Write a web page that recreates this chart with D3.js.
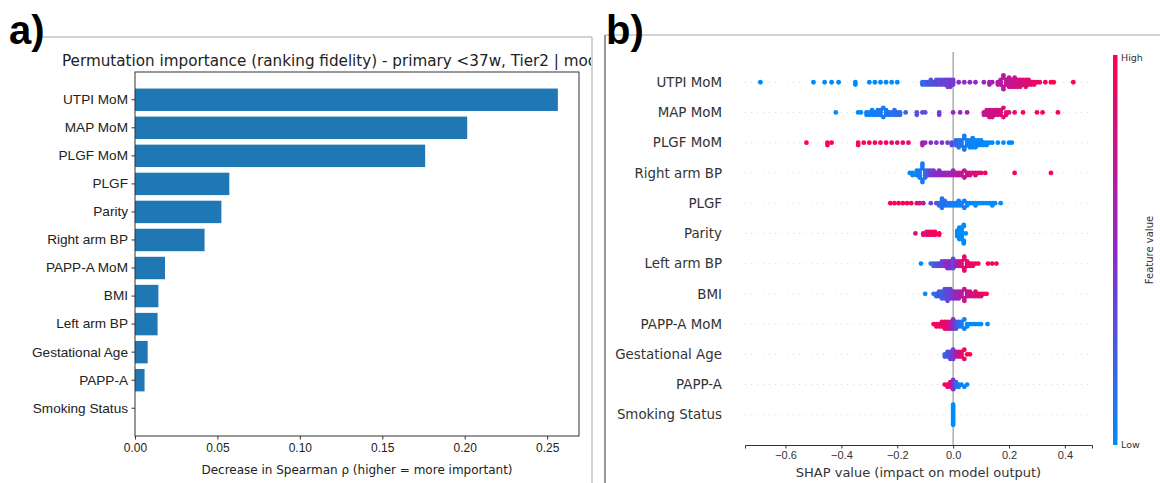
<!DOCTYPE html>
<html>
<head>
<meta charset="utf-8">
<script src="https://cdn.jsdelivr.net/npm/d3@7"></script>
<style>
  html, body { margin: 0; padding: 0; background: #fff; }
  svg { display: block; font-family: "DejaVu Sans", sans-serif; }
</style>
</head>
<body>
<svg id="chart" width="1160" height="483"></svg>
<script>
// ---- panel a: permutation importance ----
const features = ["UTPI MoM", "MAP MoM", "PLGF MoM", "PLGF", "Parity", "Right arm BP",
  "PAPP-A MoM", "BMI", "Left arm BP", "Gestational Age", "PAPP-A", "Smoking Status"];
const importance = [0.2565, 0.2015, 0.1760, 0.0572, 0.0524, 0.0422,
  0.0182, 0.0142, 0.0137, 0.0077, 0.0058, 0.0];
const importanceTicks = [0, 0.05, 0.10, 0.15, 0.20, 0.25];

// ---- panel b: SHAP beeswarm, each entry [shap value, feature value 0..1, dots stacked] ----
const shapTicks = [-0.6, -0.4, -0.2, 0.0, 0.2, 0.4];
const shapUtpiMom = [[-0.69,0,1],[-0.50,0,1],[-0.46,0,1],[-0.435,0,1],[-0.41,0,1],[-0.35,0,2],
  [-0.30,0,1],[-0.28,0,1],[-0.26,0,1],[-0.24,0,1],[-0.22,0,1],[-0.20,0,1],
  [-0.11,0.2,2],[-0.10,0.15,2],[-0.09,0.3,2],[-0.08,0.25,3],[-0.07,0.3,2],[-0.06,0.35,3],
  [-0.05,0.3,3],[-0.04,0.35,3],[-0.03,0.4,3],[-0.02,0.35,4],[-0.01,0.45,4],[0.0,0.4,3],
  [0.02,0.5,1],[0.04,0.5,1],[0.06,0.55,1],[0.08,0.5,1],[0.11,0.55,1],[0.13,0.6,2],[0.14,0.6,1],
  [0.16,0.7,2],[0.17,0.65,3],[0.18,0.7,4],[0.19,0.75,3],[0.20,0.7,5],[0.21,0.8,4],[0.22,0.75,5],
  [0.23,0.8,4],[0.24,0.85,4],[0.25,0.8,3],[0.26,0.85,4],[0.27,0.9,3],[0.28,0.85,2],[0.29,0.9,2],
  [0.30,0.95,1],[0.31,0.9,1],[0.33,0.95,1],[0.35,1,1],[0.36,1,1],[0.43,1,1]];
const shapMapMom = [[-0.42,0,1],[-0.34,0,1],[-0.33,0,1],[-0.31,0.05,2],[-0.30,0,2],[-0.29,0.05,3],
  [-0.28,0.1,2],[-0.27,0.05,3],[-0.26,0.1,3],[-0.25,0.05,2],[-0.24,0.1,3],[-0.23,0.15,2],
  [-0.22,0.1,2],[-0.21,0.15,3],[-0.20,0.2,2],[-0.19,0.15,2],[-0.17,0.2,1],
  [-0.13,0.3,2],[-0.11,0.35,1],[-0.10,0.3,1],[-0.05,0.4,2],[0.0,0.55,1],[0.025,0.55,1],[0.05,0.6,1],
  [0.11,0.7,2],[0.12,0.75,3],[0.13,0.8,4],[0.14,0.75,4],[0.15,0.8,3],[0.16,0.85,3],[0.17,0.8,3],
  [0.18,0.85,2],[0.19,0.9,2],[0.20,0.85,1],[0.22,0.9,1],[0.25,1,1],[0.30,1,1],[0.32,1,1],[0.375,1,1]];
const shapPlgfMom = [[-0.525,1,1],[-0.45,1,2],[-0.435,1,1],[-0.34,0.95,2],[-0.32,1,1],[-0.30,0.95,1],
  [-0.28,1,1],[-0.26,0.9,1],[-0.24,0.95,1],[-0.22,0.9,1],[-0.20,0.9,1],[-0.18,0.85,1],[-0.16,0.9,1],
  [-0.11,0.6,2],[-0.10,0.55,1],[-0.08,0.5,1],[-0.06,0.45,1],[-0.04,0.45,1],[-0.02,0.4,1],[-0.005,0.35,2],
  [0.01,0.2,3],[0.02,0.15,4],[0.03,0.1,3],[0.04,0.1,4],[0.05,0.05,3],[0.06,0.05,4],[0.07,0.05,5],
  [0.08,0,4],[0.09,0.05,3],[0.10,0,3],[0.11,0,2],[0.12,0,2],[0.13,0,1],[0.14,0,1],[0.16,0,1],
  [0.18,0,1],[0.20,0,1],[0.21,0,1]];
const shapRightArm = [[-0.155,0,1],[-0.145,0,2],[-0.13,0.05,3],[-0.12,0.05,4],[-0.11,0.1,5],
  [-0.10,0.15,4],[-0.09,0.3,3],[-0.08,0.4,3],[-0.07,0.45,3],[-0.06,0.5,2],[-0.05,0.5,3],
  [-0.04,0.55,2],[-0.03,0.55,2],[-0.02,0.6,2],[-0.01,0.55,2],[0.0,0.6,3],[0.01,0.65,2],[0.02,0.7,2],
  [0.03,0.75,2],[0.04,0.7,2],[0.05,0.8,2],[0.06,0.85,2],[0.07,0.8,1],[0.08,0.85,2],[0.09,0.9,1],
  [0.10,0.9,1],[0.115,0.95,1],[0.22,1,1],[0.35,1,1]];
const shapPlgf = [[-0.225,1,1],[-0.21,1,1],[-0.195,1,1],[-0.18,0.95,1],[-0.165,1,1],[-0.15,0.95,1],
  [-0.13,0.9,1],[-0.12,0.85,1],[-0.107,0.7,1],[-0.08,0.35,1],[-0.06,0.3,1],[-0.05,0.2,2],
  [-0.04,0.1,5],[-0.03,0.15,3],[-0.02,0.1,2],[-0.01,0.1,2],[0.0,0.05,2],[0.01,0.05,2],[0.02,0.05,3],
  [0.03,0.05,2],[0.04,0.1,2],[0.05,0,2],[0.06,0,1],[0.07,0,1],[0.08,0,2],[0.09,0,1],[0.10,0,1],
  [0.11,0,1],[0.12,0,1],[0.13,0,1],[0.14,0,2],[0.15,0,1],[0.17,0,1]];
const shapParity = [[-0.135,0.8,1],[-0.107,0.9,2],[-0.095,0.85,3],[-0.085,0.95,3],[-0.075,0.9,3],
  [-0.065,1,3],[-0.05,1,2],[0.015,0,5],[0.022,0,9],[0.03,0,9],[0.038,0,5],[0.045,0,1]];
const shapLeftArm = [[-0.115,0,1],[-0.08,0.1,1],[-0.07,0.2,2],[-0.06,0.3,2],[-0.05,0.4,2],
  [-0.04,0.35,3],[-0.03,0.45,3],[-0.02,0.5,4],[-0.01,0.5,4],[0.0,0.3,5],[0.01,0.6,3],[0.02,0.7,3],
  [0.03,0.85,3],[0.04,0.9,4],[0.05,0.9,3],[0.06,0.95,2],[0.07,0.9,2],[0.08,1,1],[0.09,1,1],
  [0.125,1,1],[0.14,1,1],[0.155,1,1]];
const shapBmi = [[-0.10,0,1],[-0.07,0.1,1],[-0.06,0.2,2],[-0.05,0.3,3],[-0.04,0.2,4],[-0.03,0.3,5],
  [-0.02,0.35,6],[-0.01,0.4,5],[0.0,0.45,4],[0.01,0.55,4],[0.02,0.6,4],[0.03,0.7,3],[0.04,0.75,3],
  [0.05,0.7,3],[0.06,0.8,3],[0.07,0.85,2],[0.08,0.8,3],[0.09,0.9,2],[0.10,0.9,2],[0.11,0.95,1],[0.12,1,1]];
const shapPappaMom = [[-0.07,1,1],[-0.06,0.95,2],[-0.05,1,2],[-0.04,0.9,3],[-0.03,0.95,4],
  [-0.02,0.85,4],[-0.01,0.7,4],[0.0,0.5,5],[0.01,0.3,4],[0.02,0.2,3],[0.03,0.1,3],[0.04,0.05,2],
  [0.05,0,2],[0.06,0,1],[0.07,0,1],[0.08,0,1],[0.09,0,1],[0.10,0,1],[0.123,0,1]];
const shapGestAge = [[-0.03,0.2,2],[-0.02,0.3,3],[-0.01,0.35,4],[0.0,0.4,5],[0.01,0.6,3],
  [0.02,0.8,3],[0.03,0.9,3],[0.04,0.95,2],[0.05,1,1],[0.06,1,1]];
const shapPappa = [[-0.03,1,1],[-0.02,0.9,2],[-0.01,0.85,3],[0.0,0.5,5],[0.01,0.2,3],[0.02,0.1,2],
  [0.03,0,1],[0.04,0,1],[0.05,0,1]];
const shapSmoking = [[0.0,0,11]];

const shapRows = [
  ["UTPI MoM", shapUtpiMom], ["MAP MoM", shapMapMom], ["PLGF MoM", shapPlgfMom],
  ["Right arm BP", shapRightArm], ["PLGF", shapPlgf], ["Parity", shapParity],
  ["Left arm BP", shapLeftArm], ["BMI", shapBmi], ["PAPP-A MoM", shapPappaMom],
  ["Gestational Age", shapGestAge], ["PAPP-A", shapPappa], ["Smoking Status", shapSmoking]
];

const svg = d3.select("#chart");
svg.append("rect").attr("width", 1160).attr("height", 483).attr("fill", "#fff");

// panel frames
svg.append("line").attr("x1", 40).attr("x2", 592).attr("y1", 37).attr("y2", 37).attr("stroke", "#c4c4c4").attr("stroke-width", 1.5);
svg.append("line").attr("x1", 592).attr("x2", 592).attr("y1", 37).attr("y2", 483).attr("stroke", "#c4c4c4").attr("stroke-width", 1.5);
svg.append("line").attr("x1", 605).attr("x2", 1160).attr("y1", 35).attr("y2", 35).attr("stroke", "#c4c4c4").attr("stroke-width", 1.5);
svg.append("line").attr("x1", 605).attr("x2", 605).attr("y1", 35).attr("y2", 483).attr("stroke", "#777").attr("stroke-width", 1.5);

svg.append("text").attr("x", 9).attr("y", 44).text("a)")
  .style("font-family", "Liberation Sans, Arial, sans-serif").style("font-weight", "bold").style("font-size", "40px");
svg.append("text").attr("x", 606).attr("y", 44).text("b)")
  .style("font-family", "Liberation Sans, Arial, sans-serif").style("font-weight", "bold").style("font-size", "40px");

// ---------- panel a ----------
const ax = { left: 135, right: 579, top: 72, bottom: 436 };
const x = d3.scaleLinear().domain([0, d3.max(importance) * 1.05]).range([ax.left, ax.right]);
const y = d3.scaleBand().domain(features).range([ax.top, ax.bottom]).paddingInner(0.2).paddingOuter(0.59);

svg.append("clipPath").attr("id", "clipA").append("rect").attr("x", 0).attr("y", 0).attr("width", 591).attr("height", 483);
svg.append("text").attr("clip-path", "url(#clipA)")
  .attr("x", 62).attr("y", 66).attr("fill", "#222").style("font-size", "15.2px")
  .text("Permutation importance (ranking fidelity) - primary <37w, Tier2 | model");

svg.append("g").selectAll("rect").data(features).join("rect")
  .attr("x", x(0))
  .attr("y", d => y(d))
  .attr("width", (d, i) => x(importance[i]) - x(0))
  .attr("height", y.bandwidth())
  .attr("fill", "#1f77b4");

svg.append("rect").attr("x", ax.left).attr("y", ax.top).attr("width", ax.right - ax.left).attr("height", ax.bottom - ax.top)
  .attr("fill", "none").attr("stroke", "#333").attr("stroke-width", 1);

const gxA = svg.append("g").attr("transform", `translate(0,${ax.bottom})`)
  .call(d3.axisBottom(x).tickValues(importanceTicks).tickFormat(d3.format(".2f")).tickSize(3.5).tickPadding(3.5));
gxA.select(".domain").remove();
gxA.selectAll("text").style("font-size", "12px").attr("fill", "#222");
gxA.selectAll("line").attr("stroke", "#333");

const gyA = svg.append("g").attr("transform", `translate(${ax.left},0)`)
  .call(d3.axisLeft(y).tickSize(3.5).tickPadding(3.5));
gyA.select(".domain").remove();
gyA.selectAll("text").style("font-size", "13.6px").attr("fill", "#222");
gyA.selectAll("line").attr("stroke", "#333");

svg.append("text").attr("x", (ax.left + ax.right) / 2).attr("y", 473.5).attr("text-anchor", "middle")
  .attr("fill", "#222").style("font-size", "12px")
  .text("Decrease in Spearman ρ (higher = more important)");

// ---------- panel b ----------
const bx = { left: 745, right: 1092, top: 52, bottom: 445 };
const xs = d3.scaleLinear().domain([-0.745, 0.497]).range([bx.left, bx.right]);
const ys = d3.scaleLinear().domain([-1, shapRows.length]).range([bx.bottom, bx.top]);
const color = d3.scaleLinear().domain([0, 0.5, 1]).range(["#008bfb", "#8b2bc8", "#ff0052"]);
const rowPos = (i) => ys(shapRows.length - 1 - i);

const gb = svg.append("g");
// dotted row guides
gb.selectAll("line.guide").data(shapRows).join("line").attr("class", "guide")
  .attr("x1", bx.left).attr("x2", bx.right)
  .attr("y1", (d, i) => rowPos(i)).attr("y2", (d, i) => rowPos(i))
  .attr("stroke", "#cccccc").attr("stroke-width", 0.7).attr("stroke-dasharray", "1 5");
// zero line
gb.append("line").attr("x1", xs(0)).attr("x2", xs(0)).attr("y1", bx.top).attr("y2", bx.bottom)
  .attr("stroke", "#999").attr("stroke-width", 1.2);

// beeswarm layout: bin by pixel, stack alternately above/below
function swarm(entries, cy) {
  const pts = [];
  entries.forEach(([v, f, n]) => { for (let k = 0; k < n; k++) pts.push({ v, f, px: xs(v) }); });
  pts.sort((a, b) => a.px - b.px);
  let lastBin = null, layer = 0;
  pts.forEach(p => {
    const bin = Math.round(p.px / 3);
    if (bin !== lastBin) { layer = 0; lastBin = bin; }
    p.k = Math.ceil(layer / 2) * ((layer % 2) * 2 - 1);
    layer++;
  });
  const maxK = d3.max(pts, p => Math.abs(p.k)) || 1;
  const step = Math.min(2.3, 10 / maxK);
  pts.forEach(p => { p.py = cy + p.k * step; });
  return pts;
}

shapRows.forEach(([name, entries], i) => {
  const pts = swarm(entries, rowPos(i));
  gb.append("g").selectAll("circle").data(pts).join("circle")
    .attr("cx", d => d.px).attr("cy", d => d.py).attr("r", 2.4)
    .attr("fill", d => color(d.f));
});

// y labels
gb.selectAll("text.ylab").data(shapRows).join("text").attr("class", "ylab")
  .attr("x", 722).attr("y", (d, i) => rowPos(i)).attr("dy", "0.35em").attr("text-anchor", "end")
  .attr("fill", "#333").style("font-size", "13.4px").text(d => d[0]);

const gxB = svg.append("g").attr("transform", `translate(0,${bx.bottom})`)
  .call(d3.axisBottom(xs).tickValues(shapTicks).tickFormat(d3.format(".1f")).tickSize(3.5).tickPadding(2.5));
gxB.select(".domain").attr("stroke", "#333");
gxB.selectAll("text").style("font-size", "11px").attr("fill", "#333");
gxB.selectAll("line").attr("stroke", "#333");

svg.append("text").attr("x", (bx.left + bx.right) / 2).attr("y", 477).attr("text-anchor", "middle")
  .attr("fill", "#333").style("font-size", "13px").text("SHAP value (impact on model output)");

// colorbar
const grad = svg.append("defs").append("linearGradient").attr("id", "cbar")
  .attr("x1", 0).attr("y1", 1).attr("x2", 0).attr("y2", 0);
[0, 0.25, 0.5, 0.75, 1].forEach(t => grad.append("stop").attr("offset", t).attr("stop-color", color(t)));
svg.append("rect").attr("x", 1113).attr("y", 55).attr("width", 4.5).attr("height", bx.bottom - 55).attr("fill", "url(#cbar)");
svg.append("text").attr("x", 1121).attr("y", 61).attr("fill", "#333").style("font-size", "9.5px").text("High");
svg.append("text").attr("x", 1121).attr("y", 448).attr("fill", "#333").style("font-size", "9.5px").text("Low");
svg.append("text").attr("transform", "translate(1153,250) rotate(-90)").attr("text-anchor", "middle")
  .attr("fill", "#333").style("font-size", "10px").text("Feature value");
</script>
</body>
</html>
